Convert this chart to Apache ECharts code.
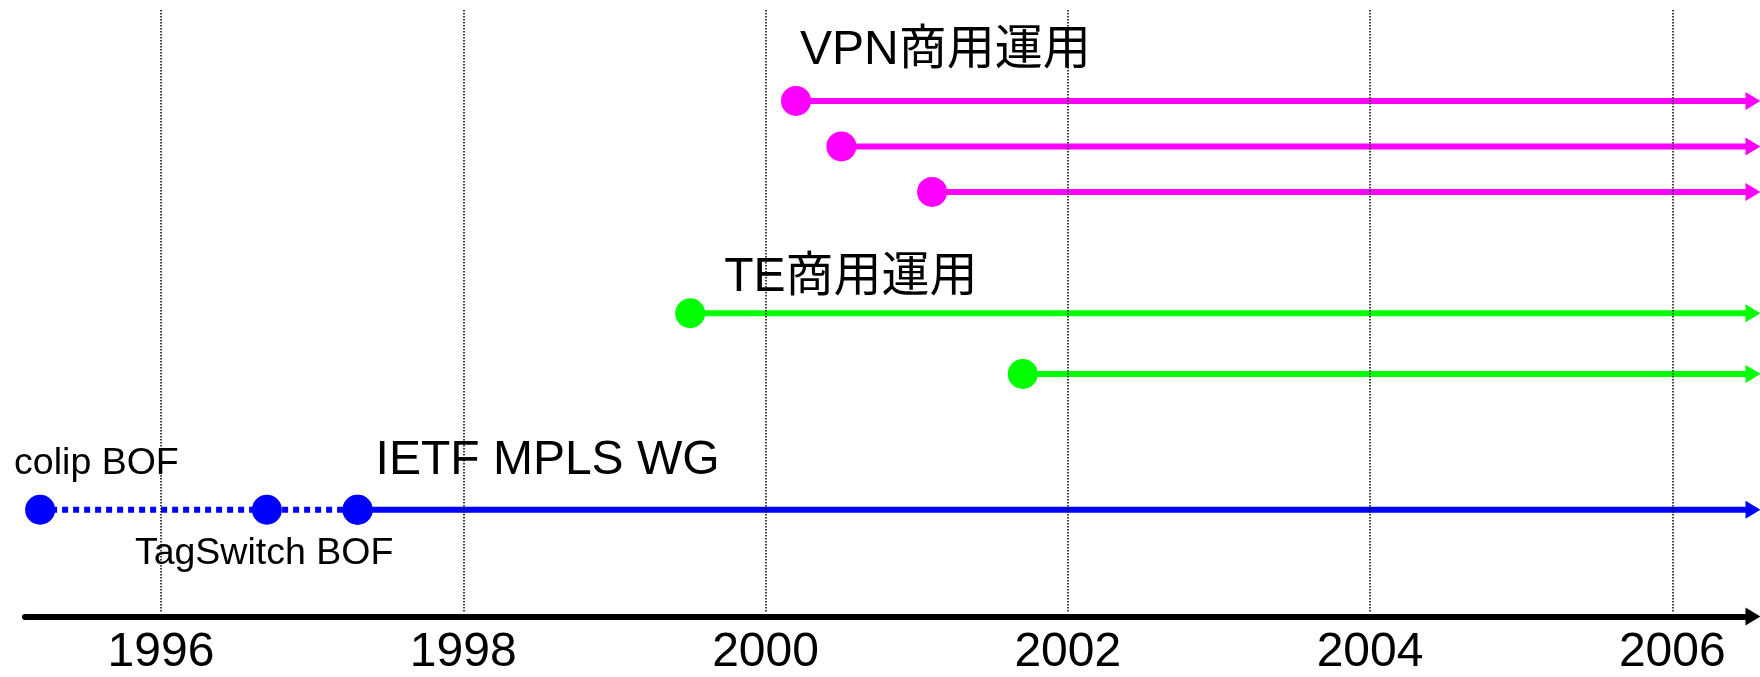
<!DOCTYPE html>
<html>
<head>
<meta charset="utf-8">
<script src="https://cdn.jsdelivr.net/npm/echarts@6/dist/echarts.min.js"></script>
<style>
  html, body { margin: 0; padding: 0; background: #fff; }
  #chart { width: 1760px; height: 677px; }
</style>
</head>
<body>
<div id="chart"></div>
<script>
// timeline extent (years)
var axisStart = 1995.1;
var axisEnd = 2006.53;
var yearTicks = [1996, 1998, 2000, 2002, 2004, 2006];

// rows are on a 0..100 scale, bottom to top
var vpnStarts = [2000.2, 2000.5, 2001.1];
var vpnRows = [85, 77.5, 70];
var teStarts = [1999.5, 2001.7];
var teRows = [50, 40];
var mplsEvents = [1995.2, 1996.7, 1997.3];
var mplsEventLabels = ['colip BOF', 'TagSwitch BOF', 'IETF MPLS WG'];
var mplsRow = 17.6;
var groupLabels = ['VPN商用運用', 'TE商用運用'];

var FONT = "'Liberation Sans', Arial, 'Noto Sans CJK JP', sans-serif";
var MAGENTA = '#ff00ff', GREEN = '#00ff00', BLUE = '#0000ff';
var ARROW = [18, 15];

function textLabel(text, pos, size) {
    return {
        show: true, formatter: text, position: pos,
        align: 'left', verticalAlign: 'middle',
        fontSize: size, fontFamily: FONT, color: '#000'
    };
}

// start dot ... arrow head at the end
function track(color, start, row, label) {
    var first = { value: [start, row] };
    if (label) first.label = label;
    return {
        type: 'line',
        xAxisIndex: 0, yAxisIndex: 0,
        clip: false,
        data: [first, { value: [axisEnd, row] }],
        symbol: function (v, p) { return p.dataIndex === 1 ? 'triangle' : 'circle'; },
        symbolSize: function (v, p) { return p.dataIndex === 1 ? ARROW : 30; },
        symbolRotate: function (v, p) { return p.dataIndex === 1 ? -90 : 0; },
        showAllSymbol: true,
        lineStyle: { color: color, width: 6 },
        itemStyle: { color: color },
        emphasis: { disabled: true },
        silent: true
    };
}

var series = [];
vpnStarts.forEach(function (s, i) {
    series.push(track(MAGENTA, s, vpnRows[i], i === 0 ? textLabel(groupLabels[0], [19, -35], 48) : null));
});
teStarts.forEach(function (s, i) {
    series.push(track(GREEN, s, teRows[i], i === 0 ? textLabel(groupLabels[1], [49, -20], 48) : null));
});

// solid part: from the WG onwards
series.push(track(BLUE, mplsEvents[2], mplsRow, textLabel(mplsEventLabels[2], [33, -34], 48)));

// dotted part: the two BOFs
series.push({
    type: 'line',
    xAxisIndex: 0, yAxisIndex: 0,
    clip: false,
    data: [
        { value: [mplsEvents[0], mplsRow], label: textLabel(mplsEventLabels[0], [-11, -31], 37.5) },
        { value: [mplsEvents[1], mplsRow], label: textLabel(mplsEventLabels[1], [-117, 59], 37.5) },
        { value: [mplsEvents[2], mplsRow] }
    ],
    symbol: 'circle', symbolSize: 30,
    lineStyle: { color: BLUE, width: 6, type: [6, 5], cap: 'butt' },
    itemStyle: { color: BLUE },
    emphasis: { disabled: true },
    silent: true
});

var chart = echarts.init(document.getElementById('chart'));
chart.setOption({
    animation: false,
    backgroundColor: '#fff',
    grid: [
        { left: 25, right: 7, top: 10, bottom: 60.5 },
        { left: 161, right: 87.7, top: 10, bottom: 60.5 }
    ],
    xAxis: [
        {
            gridIndex: 0, type: 'value', min: axisStart, max: axisEnd,
            axisLine: {
                show: true, onZero: false,
                lineStyle: { color: '#000', width: 6 },
                symbol: ['none', 'triangle'], symbolSize: ARROW
            },
            axisTick: { show: false }, axisLabel: { show: false }, splitLine: { show: false }
        },
        {
            gridIndex: 1, type: 'value', min: yearTicks[0], max: yearTicks[yearTicks.length - 1], interval: 2,
            z: 10,
            axisLine: { show: false }, axisTick: { show: false },
            axisLabel: {
                show: true, fontSize: 48, fontFamily: FONT, color: '#000', margin: 16,
                formatter: function (v) { return String(v); }
            },
            splitLine: { show: true, lineStyle: { color: '#000', width: 1.5, type: [1.5, 1.5] } }
        }
    ],
    yAxis: [
        { gridIndex: 0, type: 'value', min: 0, max: 100, show: false },
        { gridIndex: 1, type: 'value', min: 0, max: 100, show: false }
    ],
    series: series
});
</script>
</body>
</html>
